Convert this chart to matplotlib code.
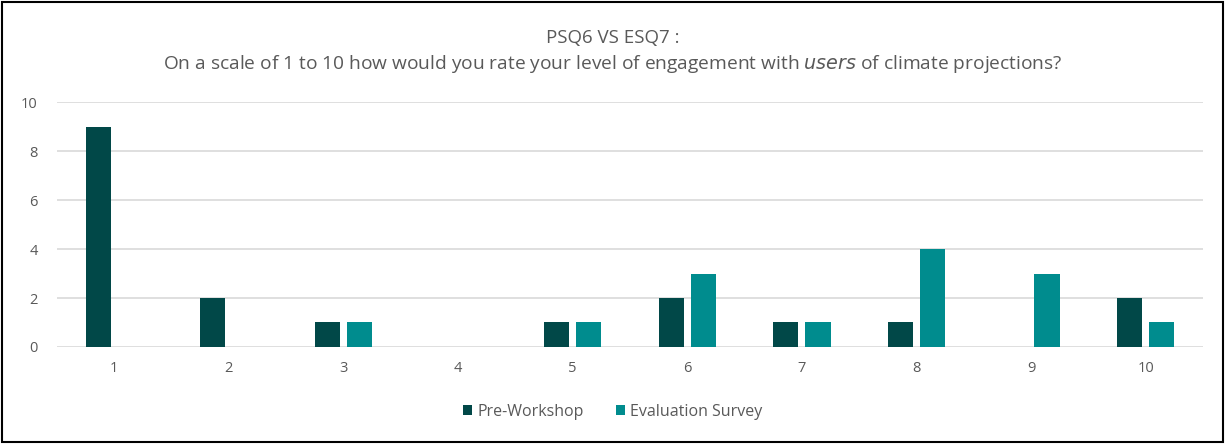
import numpy as np
import matplotlib.pyplot as plt
from matplotlib.patches import Rectangle

plt.rcParams['font.family'] = ['Open Sans', 'DejaVu Sans']

categories = ['1', '2', '3', '4', '5', '6', '7', '8', '9', '10']
pre_workshop = [9, 2, 1, 0, 1, 2, 1, 1, 0, 2]
evaluation = [0, 0, 1, 0, 1, 3, 1, 4, 3, 1]

dark = '#014848'
teal = '#008C8E'
grey = '#595959'

fig = plt.figure(figsize=(12.25, 4.44), dpi=100)
ax = fig.add_axes([0.0465, 0.2185, 0.9355, 0.5515])

x = np.arange(len(categories))
w = 0.22
ax.bar(x - 0.14, pre_workshop, w, color=dark, label='Pre-Workshop', zorder=3)
ax.bar(x + 0.14, evaluation, w, color=teal, label='Evaluation Survey', zorder=3)

ax.set_xlim(-0.5, len(categories) - 0.5)
ax.set_ylim(0, 10)
ax.set_yticks(range(0, 11, 2))
ax.set_xticks(x)
ax.set_xticklabels(categories)
ax.yaxis.grid(True, color='#d9d9d9', linewidth=1.2, zorder=0)
ax.tick_params(length=0, colors=grey, labelsize=10.5)
ax.tick_params(axis='x', pad=10)
ax.tick_params(axis='y', pad=14)
for s in ax.spines.values():
    s.set_visible(False)

fig.text(0.5, 0.914, 'PSQ6 VS ESQ7 :', ha='center', va='center', fontsize=13.5, color=grey)
fig.text(0.5, 0.855, 'On a scale of 1 to 10 how would you rate your level of engagement with $\\it{users}$ of climate projections?',
         ha='center', va='center', fontsize=13.8, color=grey)

fig.legend(loc='center', bbox_to_anchor=(0.5, 0.073), ncol=2, frameon=False,
           fontsize=11.5, labelcolor=grey, handlelength=0.6, handleheight=0.6,
           columnspacing=2.0, handletextpad=0.3)

fig.patches.append(Rectangle((0.002, 0.005), 0.996, 0.99, transform=fig.transFigure,
                             fill=False, edgecolor='black', linewidth=1.5))

fig.savefig('out.png', dpi=100)
